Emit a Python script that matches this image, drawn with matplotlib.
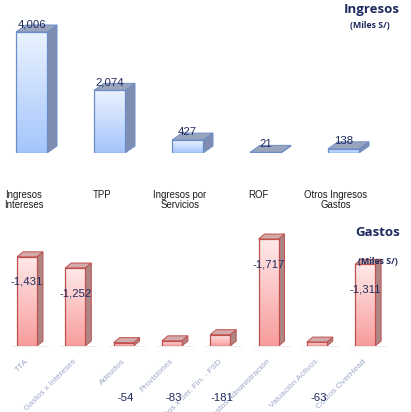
import numpy as np
import matplotlib
matplotlib.use("Agg")
import matplotlib.pyplot as plt
from matplotlib.patches import Polygon, Rectangle
from matplotlib.colors import LinearSegmentedColormap

# Ingresos (Miles S/)
ingresos_cats = ["Ingresos\nIntereses", "TPP", "Ingresos por\nServicios", "ROF",
                 "Otros Ingresos\nGastos"]
ingresos_vals = [4006, 2074, 427, 21, 138]

# Gastos (Miles S/)
gastos_cats = ["TTA", "Gastos x Intereses", "Adeudos", "Provisiones",
               "Gastos x Ser. Fin. - FSD", "Gastos Administración",
               "Valuación Activos", "Costos OverHead"]
gastos_vals = [-1431, -1252, -54, -83, -181, -1717, -63, -1311]

W, H, DPI = 411, 412, 100
NAVY = "#1f2b5e"
FONT = "Liberation Sans"

fig = plt.figure(figsize=(W / DPI, H / DPI), dpi=DPI)
fig.patch.set_facecolor("white")


def add_px_axes(base_px, height_px):
    ax = fig.add_axes([0, 1 - base_px / H, 1, height_px / H])
    ax.set_axis_off()
    return ax


def bar3d(ax, x0, w, h, depth_px, cmap, edge, side, top):
    """Front face with vertical gradient plus side and top faces."""
    bbox = ax.get_position()
    (xa, xb), (ya, yb) = ax.get_xlim(), ax.get_ylim()
    ppx = bbox.width * W / (xb - xa)
    ppy = bbox.height * H / (yb - ya)
    dx, dy = depth_px[0] / ppx, depth_px[1] / ppy
    side_poly = Polygon([(x0 + w, 0), (x0 + w + dx, dy), (x0 + w + dx, h + dy), (x0 + w, h)],
                        closed=True, facecolor=side, edgecolor=edge, lw=0.7, zorder=2)
    top_poly = Polygon([(x0, h), (x0 + dx, h + dy), (x0 + w + dx, h + dy), (x0 + w, h)],
                       closed=True, facecolor=top, edgecolor=edge, lw=0.7, zorder=2)
    ax.add_patch(side_poly)
    ax.add_patch(top_poly)
    rect = Rectangle((x0, 0), w, h, facecolor="none", edgecolor=edge, lw=0.9, zorder=4)
    ax.add_patch(rect)
    grad = np.linspace(0, 1, 128).reshape(-1, 1)
    im = ax.imshow(grad, cmap=cmap, extent=[x0, x0 + w, 0, h], origin="lower",
                   aspect="auto", zorder=3, interpolation="bilinear")
    im.set_clip_path(rect)
    ax.set_xlim(xa, xb)
    ax.set_ylim(ya, yb)


# ---------------- Ingresos ----------------
ax1 = add_px_axes(153, 140)
step1, start1 = 78.0, 24.0
ax1.set_xlim(-start1 / step1, (W - start1) / step1)
ax1.set_ylim(0, 140 / 0.0302)
blue_cmap = LinearSegmentedColormap.from_list("blue", ["#a4c5fb", "#eaf2ff"])
bw1 = 31 / step1
shift1 = 7.5 / step1
for i, (cat, v) in enumerate(zip(ingresos_cats, ingresos_vals)):
    xc = i + shift1
    bar3d(ax1, xc - bw1 / 2, bw1, v, (10, 7), blue_cmap, "#6a8cc7", "#7f8db0", "#9aa5bd")
    ax1.annotate(f"{v:,}", xy=(xc, v), xytext=(0, 8), textcoords="offset pixels",
                 ha="center", va="center", fontsize=8.2, color=NAVY, family=FONT,
                 zorder=6, annotation_clip=False)
    ax1.annotate(cat, xy=(i, 0), xytext=(0, -37), textcoords="offset pixels",
                 ha="center", va="top", fontsize=6.9, color="#1a1a1a", family=FONT,
                 linespacing=1.05, annotation_clip=False)

fig.text(372 / W, 1 - 10 / H, "Ingresos", ha="center", va="center", fontsize=9.5,
         fontweight="bold", color=NAVY, family="Open Sans")
fig.text(370 / W, 1 - 25 / H, "(Miles S/)", ha="center", va="center", fontsize=6.3,
         fontweight="bold", color=NAVY, family="Open Sans")

# ---------------- Gastos ----------------
ax2 = add_px_axes(346, 130)
step2, start2 = 48.3, 27.0
ax2.set_xlim(-start2 / step2, (W - start2) / step2)
ax2.set_ylim(0, 130 / 0.0623)
red_cmap = LinearSegmentedColormap.from_list("red", ["#f89c9c", "#ffe9e9"])
bw2 = 20 / step2
for i, (cat, v) in enumerate(zip(gastos_cats, gastos_vals)):
    h = abs(v)
    bar3d(ax2, i - bw2 / 2, bw2, h, (6, 5), red_cmap, "#c0504d", "#ad8584", "#d3aaaa")
    # soft floor shadow
    ax2.fill_between([i - bw2 / 2 - 0.1, i + bw2 / 2 + 0.25], -30, 0, color="#e2e2e2",
                     alpha=0.6, lw=0, zorder=1)
    if h * 0.0623 > 30:
        xy, off = (i, h), (0, -25)
    else:
        xy, off = (i, 0), (2, -52)
    ax2.annotate(f"{v:,}", xy=xy, xytext=off, textcoords="offset pixels",
                 ha="center", va="center", fontsize=8.2, color=NAVY, family=FONT,
                 zorder=6, annotation_clip=False)
    ax2.annotate(cat, xy=(i, 0), xytext=(-2, -12), textcoords="offset pixels",
                 ha="right", va="top", rotation=45, rotation_mode="anchor",
                 fontsize=6, color="#9ca8c8", family=FONT, annotation_clip=False)

fig.text(378 / W, 1 - 232 / H, "Gastos", ha="center", va="center", fontsize=9.5,
         fontweight="bold", color=NAVY, family="Open Sans")
fig.text(378 / W, 1 - 262 / H, "(Miles S/)", ha="center", va="center", fontsize=6.3,
         fontweight="bold", color=NAVY, family="Open Sans", zorder=10)

fig.savefig("out.png", dpi=DPI, facecolor="white")
